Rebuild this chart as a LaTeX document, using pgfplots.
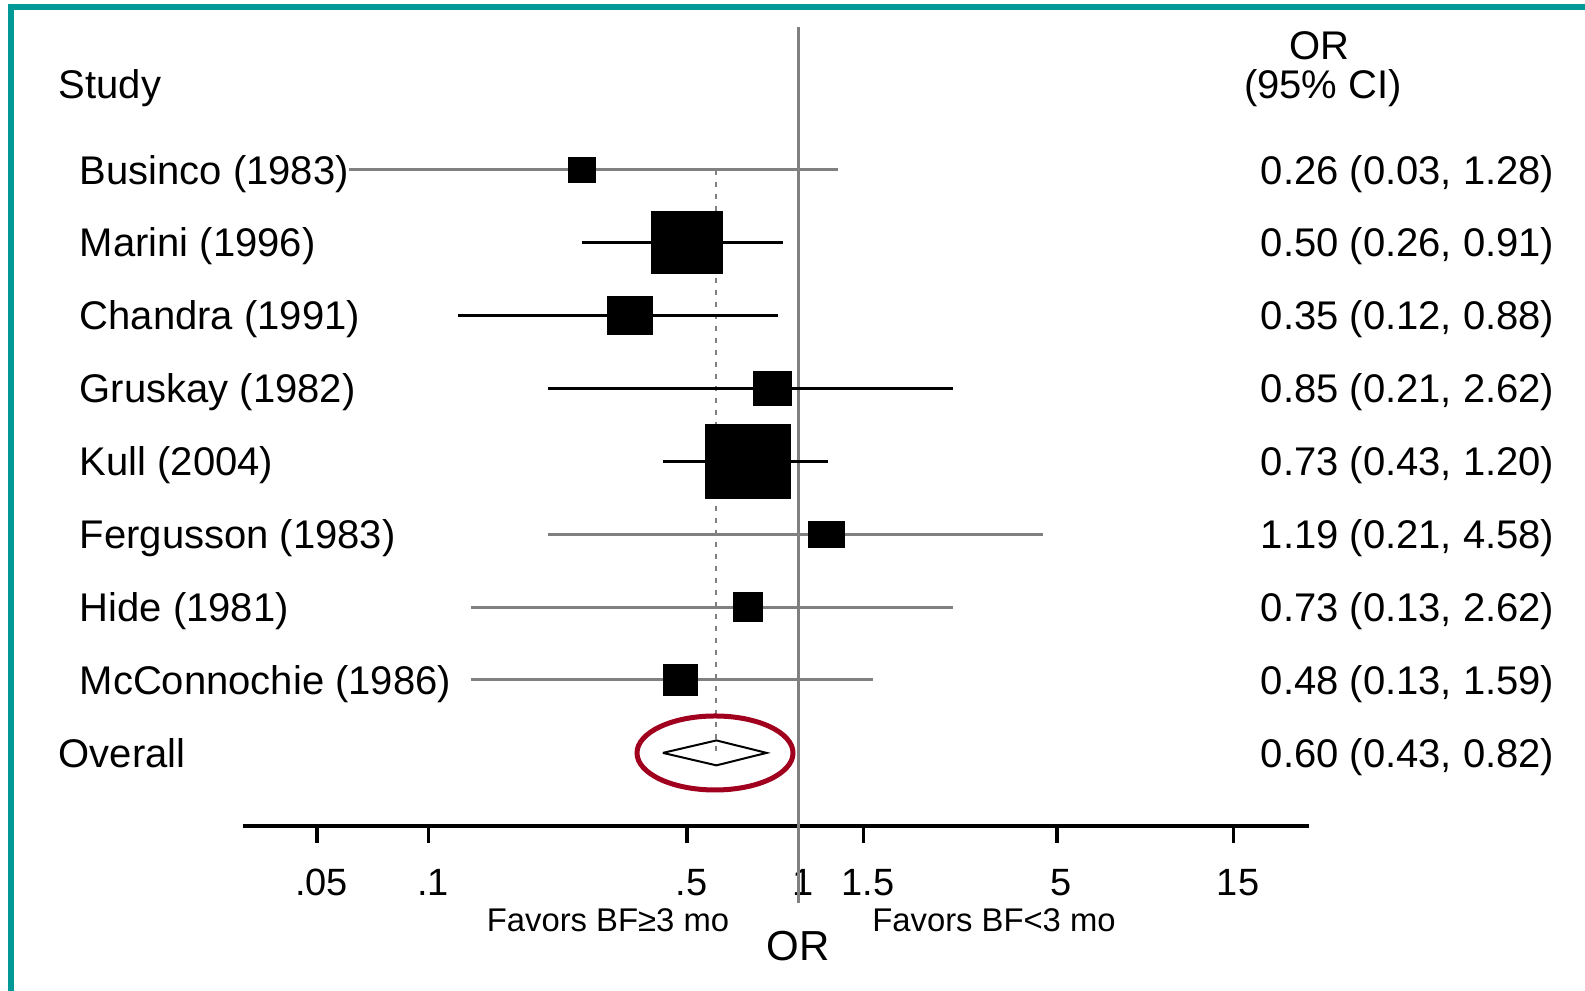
\documentclass[border=0pt]{standalone}
\usepackage{fontspec}
\setmainfont{Liberation Sans}
\usepackage{pgfplots}
\pgfplotsset{compat=1.18}
\definecolor{frameteal}{RGB}{0,153,151}
\definecolor{ringred}{RGB}{160,0,30}
\definecolor{cigray}{RGB}{128,128,128}

\begin{document}
\begin{tikzpicture}
% picture frame in pixel units of the reference (1585 x 991)
\begin{scope}[x=0.25pt, y=-0.25pt, shift={(-60.85pt,206.45pt)}]
\path[use as bounding box] (0,0) rectangle (1585,991);
\end{scope}

\begin{axis}[
  scale only axis, width=266.45pt, height=206.45pt,
  xmode=log, xmin=0.0316, xmax=24, ymin=0, ymax=11.329,
  axis x line=bottom, axis y line=none,
  x axis line style={-, black, line width=1pt},
  xtick={0.05,0.1,0.5,1,1.5,5,15},
  xticklabels={.05,.1,.5,1,1.5,5,15},
  minor x tick style={draw=none},
  tick align=outside, major tick length=4.3pt,
  x tick style={black, line width=0.85pt},
  xticklabel style={font=\fontsize{9.5}{10}\selectfont, anchor=center, inner sep=0pt, text height=6.8pt, text depth=0pt, xshift=1.1pt},
  xticklabel shift=9.75pt,
  ytick=\empty,
  clip=false,
]
% line of no effect and overall estimate
\addplot[cigray, line width=0.75pt] coordinates {(1,10.959) (1,-1.058)};
\addplot[cigray, line width=0.5pt, dash pattern=on 1.3pt off 1.7pt] coordinates {(0.60,9) (0.60,1)};

% confidence intervals
\addplot[cigray, line width=0.75pt] coordinates {(0.03,9) (1.28,9)};   % Businco
\addplot[black,  line width=0.75pt] coordinates {(0.26,8) (0.91,8)};   % Marini
\addplot[black,  line width=0.75pt] coordinates {(0.12,7) (0.88,7)};   % Chandra
\addplot[black,  line width=0.75pt] coordinates {(0.21,6) (2.62,6)};   % Gruskay
\addplot[black,  line width=0.75pt] coordinates {(0.43,5) (1.20,5)};   % Kull
\addplot[cigray, line width=0.75pt] coordinates {(0.21,4) (4.58,4)};   % Fergusson
\addplot[cigray, line width=0.75pt] coordinates {(0.13,3) (2.62,3)};   % Hide
\addplot[cigray, line width=0.75pt] coordinates {(0.13,2) (1.59,2)};   % McConnochie

% point estimates (weighted boxes)
\addplot[only marks, mark=square*, mark size=3pt,     mark options={draw=none, fill=black, xscale=1.125}] coordinates {(0.26,9)};
\addplot[only marks, mark=square*, mark size=7.625pt, mark options={draw=none, fill=black, xscale=1.148}] coordinates {(0.50,8)};
\addplot[only marks, mark=square*, mark size=4.75pt,  mark options={draw=none, fill=black, xscale=1.184}] coordinates {(0.35,7)};
\addplot[only marks, mark=square*, mark size=4.25pt,  mark options={draw=none, fill=black, xscale=1.118}] coordinates {(0.85,6)};
\addplot[only marks, mark=square*, mark size=9.125pt, mark options={draw=none, fill=black, xscale=1.15}]  coordinates {(0.73,5)};
\addplot[only marks, mark=square*, mark size=3.125pt, mark options={draw=none, fill=black, xscale=1.44}]  coordinates {(1.19,4)};
\addplot[only marks, mark=square*, mark size=3.5pt,   mark options={draw=none, fill=black, xscale=1.04}]  coordinates {(0.73,3)};
\addplot[only marks, mark=square*, mark size=3.75pt,  mark options={draw=none, fill=black, xscale=1.1}]   coordinates {(0.48,2)};

% overall diamond
\addplot[black, line width=0.5pt] coordinates {(0.43,1) (0.60,1.171) (0.82,1) (0.60,0.829) (0.43,1)};
\end{axis}

\begin{scope}[x=0.25pt, y=-0.25pt, shift={(-60.85pt,206.45pt)},
  lab/.style={anchor=west, inner sep=0pt, text height=7.16pt, text depth=0pt, font=\fontsize{10}{12}\selectfont},
  cen/.style={anchor=center, inner sep=0pt, text height=7.16pt, text depth=0pt, font=\fontsize{10}{12}\selectfont},
  fav/.style={anchor=center, inner sep=0pt, text height=5.87pt, text depth=0pt, font=\fontsize{8.2}{10}\selectfont}]
% frame
\fill[frameteal] (8,4) rectangle (14,991);
\fill[frameteal] (8,4) rectangle (1585,10);

% headers
\node[lab] at (58,84) {Study};
\node[cen] at (1319,45.5) {OR};
\node[cen] at (1323,84) {(95\% CI)};

% study names
\node[lab, fill=white] at (79,169.8) {Businco (1983)};
\node[lab] at (79,242.7) {Marini (1996)};
\node[lab] at (79,315.6) {Chandra (1991)};
\node[lab] at (79,388.5) {Gruskay (1982)};
\node[lab] at (79,461.4) {Kull (2004)};
\node[lab] at (79,534.3) {Fergusson (1983)};
\node[lab] at (79,607.2) {Hide (1981)};
\node[lab] at (79,680.1) {McConnochie (1986)};
\node[lab] at (58,753.0) {Overall};

% OR (95% CI) column
\node[lab] at (1260,169.8) {0.26 (0.03, 1.28)};
\node[lab] at (1260,242.7) {0.50 (0.26, 0.91)};
\node[lab] at (1260,315.6) {0.35 (0.12, 0.88)};
\node[lab] at (1260,388.5) {0.85 (0.21, 2.62)};
\node[lab] at (1260,461.4) {0.73 (0.43, 1.20)};
\node[lab] at (1260,534.3) {1.19 (0.21, 4.58)};
\node[lab] at (1260,607.2) {0.73 (0.13, 2.62)};
\node[lab] at (1260,680.1) {0.48 (0.13, 1.59)};
\node[lab] at (1260,753.0) {0.60 (0.43, 0.82)};

% axis annotations
\node[fav] at (608,920) {Favors BF≥3 mo};
\node[fav] at (994,920) {Favors BF<3 mo};
\node[cen, font=\fontsize{10.5}{12}\selectfont, text height=7.5pt] at (798,946) {OR};

% highlight ring
\draw[ringred, line width=1.25pt] (715,753) ellipse [x radius=19.5pt, y radius=9.25pt];
\end{scope}
\end{tikzpicture}
\end{document}
